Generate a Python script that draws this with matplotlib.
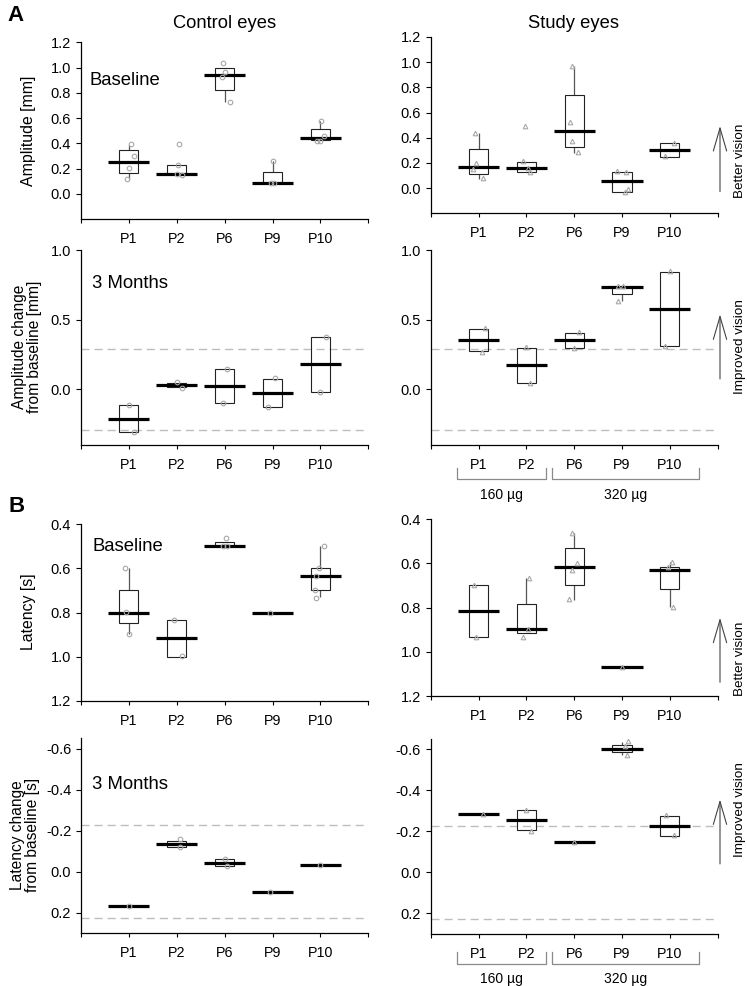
import matplotlib
matplotlib.use("Agg")
import numpy as np
import matplotlib.pyplot as plt
from matplotlib.patches import FancyArrowPatch

plt.rcParams["font.family"] = ["Liberation Sans", "DejaVu Sans"]

W, H = 747, 986

patients = ["P1", "P2", "P6", "P9", "P10"]
doses = ["160 µg", "320 µg"]
dose_spans = [(0.55, 2.41), (2.53, 5.61)]

# A - amplitude at baseline, control eyes [mm]
ampc_q1 = [0.166, 0.160, 0.824, 0.087, 0.424]
ampc_q3 = [0.344, 0.226, 0.995, 0.174, 0.513]
ampc_med = [0.255, 0.160, 0.942, 0.087, 0.442]
ampc_lo = [0.118, None, 0.726, None, None]
ampc_hi = [0.389, None, None, 0.258, 0.574]
ampc_pts = [[0.397, 0.297, 0.205, 0.118], [0.397, 0.229, 0.160, 0.145],
            [1.034, 0.968, 0.924, 0.726], [0.258, 0.087, 0.087],
            [0.574, 0.460, 0.420, 0.416]]
ampc_jit = [[0.05, 0.105, 0.0, -0.035], [0.05, 0.03, 0.0, 0.1],
            [-0.04, 0.0, -0.05, 0.11], [0.02, -0.03, 0.03],
            [0.02, 0.07, -0.08, 0.0]]

# A - amplitude at baseline, study eyes [mm]
amps_q1 = [0.113, 0.129, 0.329, -0.029, 0.250]
amps_q3 = [0.313, 0.210, 0.742, 0.124, 0.355]
amps_med = [0.171, 0.161, 0.450, 0.055, 0.303]
amps_lo = [0.076, None, 0.282, None, None]
amps_hi = [0.434, None, 0.971, None, None]
amps_pts = [[0.434, 0.203, 0.150, 0.082], [0.497, 0.213, 0.163, 0.126],
            [0.971, 0.524, 0.376, 0.289], [0.134, 0.126, -0.008, -0.029],
            [0.360, 0.255]]
amps_jit = [[-0.08, -0.05, -0.12, 0.09], [-0.03, -0.08, 0.04, 0.08],
            [-0.04, -0.09, -0.04, 0.08], [-0.1, 0.09, 0.12, 0.07],
            [0.09, -0.1]]

# A - amplitude change after 3 months, control eyes [mm]
dampc_q1 = [-0.305, 0.017, -0.095, -0.124, -0.017]
dampc_q3 = [-0.114, 0.048, 0.143, 0.076, 0.376]
dampc_med = [-0.210, 0.031, 0.024, -0.024, 0.179]
dampc_lo = [None, None, None, None, None]
dampc_hi = [None, None, None, None, None]
dampc_pts = [[-0.114, -0.305], [0.052, 0.010], [0.143, -0.100],
             [0.081, -0.124], [0.376, -0.017]]
dampc_jit = [[0.0, 0.1], [0.0, 0.1], [0.05, -0.03], [0.06, -0.1], [0.12, 0.0]]

# A - amplitude change after 3 months, study eyes [mm]
damps_q1 = [0.274, 0.043, 0.298, 0.683, 0.310]
damps_q3 = [0.433, 0.298, 0.405, 0.733, 0.840]
damps_med = [0.357, 0.171, 0.352, 0.731, 0.576]
damps_lo = [None, None, None, 0.631, None]
damps_hi = [None, None, None, None, None]
damps_pts = [[0.438, 0.271], [0.302, 0.045], [0.410, 0.298],
             [0.743, 0.738, 0.633], [0.848, 0.312]]
damps_jit = [[0.14, 0.07], [0.0, 0.07], [0.11, -0.01], [-0.09, 0.03, -0.09],
             [0.0, -0.1]]

# B - latency at baseline, control eyes [s]
latc_q1 = [0.699, 0.833, 0.481, 0.800, 0.600]
latc_q3 = [0.848, 1.000, 0.500, 0.800, 0.699]
latc_med = [0.800, 0.916, 0.500, 0.800, 0.632]
latc_lo = [0.599, None, None, None, 0.500]
latc_hi = [0.897, None, None, None, 0.730]
latc_pts = [[0.599, 0.797, 0.898], [0.833, 0.998], [0.462, 0.498, 0.498],
            [0.800], [0.500, 0.600, 0.632, 0.699, 0.733]]
latc_jit = [[-0.08, -0.07, 0.0], [-0.06, 0.1], [0.03, -0.04, 0.05], [-0.05],
            [0.08, -0.04, -0.1, -0.11, -0.1]]

# B - latency at baseline, study eyes [s]
lats_q1 = [0.699, 0.783, 0.531, 1.067, 0.614]
lats_q3 = [0.931, 0.916, 0.699, 1.067, 0.715]
lats_med = [0.815, 0.898, 0.614, 1.067, 0.629]
lats_lo = [None, 0.667, 0.463, None, 0.592]
lats_hi = [None, None, 0.765, None, 0.795]
lats_pts = [[0.696, 0.931], [0.667, 0.898, 0.931], [0.463, 0.596, 0.629, 0.762],
            [1.067], [0.595, 0.617, 0.795]]
lats_jit = [[-0.09, -0.05], [0.06, 0.03, -0.06], [-0.05, 0.06, -0.04, -0.1],
            [0.0], [0.04, -0.03, 0.06]]

# B - latency change after 3 months, control eyes [s]
dlatc_q1 = [0.166, -0.150, -0.059, 0.100, -0.033]
dlatc_q3 = [0.166, -0.118, -0.027, 0.100, -0.033]
dlatc_med = [0.166, -0.134, -0.043, 0.100, -0.033]
dlatc_lo = [None, None, None, None, None]
dlatc_hi = [None, None, None, None, None]
dlatc_pts = [[0.166], [-0.157, -0.118], [-0.063, -0.027], [0.100], [-0.033]]
dlatc_jit = [[0.0], [0.06, 0.06], [0.01, 0.05], [-0.05], [0.0]]

# B - latency change after 3 months, study eyes [s]
dlats_q1 = [-0.285, -0.302, -0.150, -0.621, -0.276]
dlats_q3 = [-0.285, -0.205, -0.150, -0.585, -0.176]
dlats_med = [-0.285, -0.254, -0.150, -0.603, -0.228]
dlats_lo = [None, None, None, -0.637, None]
dlats_hi = [None, None, None, -0.572, None]
dlats_pts = [[-0.285], [-0.304, -0.203], [-0.150], [-0.642, -0.615, -0.574],
             [-0.280, -0.180]]
dlats_jit = [[0.1], [0.0, 0.1], [0.0], [0.12, 0.07, 0.1], [-0.09, 0.08]]

amp_limit = 0.29   # dashed limits, amplitude change
lat_limit = 0.228  # dashed limits, latency change

fig = plt.figure(figsize=(W / 100, H / 100), dpi=100)


def px_axes(l, t, r, b):
    return fig.add_axes([l / W, 1 - b / H, (r - l) / W, (b - t) / H])


def fx(x):
    return x / W


def fy(y):
    return 1 - y / H


def boxes(ax, q1, q3, med, lo, hi, pts, jit, marker):
    xs = np.arange(1, 6)
    for i, x in enumerate(xs):
        if q3[i] != q1[i]:
            ax.bar(x, q3[i] - q1[i], bottom=q1[i], width=0.4, fill=False,
                   edgecolor="#222222", linewidth=0.8, zorder=3)
        if lo[i] is not None:
            ax.vlines(x, lo[i], q1[i], color="#555555", lw=0.9, zorder=2)
        if hi[i] is not None:
            ax.vlines(x, q3[i], hi[i], color="#555555", lw=0.9, zorder=2)
        ax.hlines(med[i], x - 0.43, x + 0.43, color="black", lw=2.3, zorder=4)
        ax.plot(x + np.array(jit[i]), pts[i], ls="none", marker=marker, ms=3.3,
                mfc="none", mec="#a8a8a8", mew=0.8, zorder=5)


def style(ax, ylim, yticks):
    ax.set_xlim(0, 6)
    ax.set_ylim(*ylim)
    ax.set_xticks(range(7))
    ax.set_xticklabels([""] + patients + [""])
    ax.set_yticks(yticks)
    ax.set_yticklabels([f"{t:.1f}" for t in yticks])
    ax.spines["top"].set_visible(False)
    ax.spines["right"].set_visible(False)
    ax.spines["left"].set_linewidth(0.9)
    ax.spines["bottom"].set_linewidth(0.9)
    ax.tick_params(axis="y", direction="out", length=3.6, width=0.8,
                   labelsize=10.5, pad=3.5)
    ax.tick_params(axis="x", direction="out", length=3.2, width=0.8,
                   labelsize=10.3, pad=6)
    ax.patch.set_alpha(0)


def brackets(ax, y_top, y_bot, y_lab):
    tr = ax.get_xaxis_transform()
    for (x0, x1), lab in zip(dose_spans, doses):
        ax.plot([x0, x0, x1, x1], [y_top, y_bot, y_bot, y_top], color="#8a8a8a",
                lw=0.9, transform=tr, clip_on=False)
        ax.text((x0 + x1) / 2, y_lab, lab, transform=tr, ha="center",
                va="center", fontsize=10)


def vision_arrow(x, y_tail, y_tip, label, y_lab):
    arr = FancyArrowPatch((fx(x), fy(y_tail)), (fx(x), fy(y_tip)),
                          transform=fig.transFigure,
                          arrowstyle="->,head_length=16.5,head_width=4.8",
                          mutation_scale=1, color="#444444", lw=0.8)
    fig.add_artist(arr)
    fig.text(fx(740), fy(y_lab), label, rotation=90, ha="center", va="center",
             fontsize=9.7)


dash = (0, (5.8, 3.6))

ax1 = px_axes(81, 42.3, 368.3, 219)
boxes(ax1, ampc_q1, ampc_q3, ampc_med, ampc_lo, ampc_hi, ampc_pts, ampc_jit, "o")
style(ax1, (-0.2, 1.2), [0.0, 0.2, 0.4, 0.6, 0.8, 1.0, 1.2])
ax1.text(0.17, 0.9, "Baseline", fontsize=13.3, ha="left", va="center")

ax2 = px_axes(430.7, 37, 717.7, 213.3)
boxes(ax2, amps_q1, amps_q3, amps_med, amps_lo, amps_hi, amps_pts, amps_jit, "^")
style(ax2, (-0.2, 1.2), [0.0, 0.2, 0.4, 0.6, 0.8, 1.0, 1.2])

ax3 = px_axes(81, 250, 368.3, 445)
boxes(ax3, dampc_q1, dampc_q3, dampc_med, dampc_lo, dampc_hi, dampc_pts, dampc_jit, "o")
style(ax3, (-0.4, 1.0), [0.0, 0.5, 1.0])
for v in (amp_limit, -amp_limit):
    ax3.axhline(v, color="#bdbdbd", lw=1.0, ls=dash, zorder=1)
ax3.text(0.23, 0.76, "3 Months", fontsize=13.3, ha="left", va="center")

ax4 = px_axes(430.7, 250, 717.7, 445)
boxes(ax4, damps_q1, damps_q3, damps_med, damps_lo, damps_hi, damps_pts, damps_jit, "^")
style(ax4, (-0.4, 1.0), [0.0, 0.5, 1.0])
for v in (amp_limit, -amp_limit):
    ax4.axhline(v, color="#bdbdbd", lw=1.0, ls=dash, zorder=1)
brackets(ax4, -23 / 195, -34 / 195, -50 / 195)

ax5 = px_axes(81, 524.3, 368.3, 701)
boxes(ax5, latc_q1, latc_q3, latc_med, latc_lo, latc_hi, latc_pts, latc_jit, "o")
style(ax5, (1.2, 0.4), [0.4, 0.6, 0.8, 1.0, 1.2])
ax5.text(0.23, 0.501, "Baseline", fontsize=13.3, ha="left", va="center")

ax6 = px_axes(430.7, 519.3, 717.7, 696)
boxes(ax6, lats_q1, lats_q3, lats_med, lats_lo, lats_hi, lats_pts, lats_jit, "^")
style(ax6, (1.2, 0.4), [0.4, 0.6, 0.8, 1.0, 1.2])

ax7 = px_axes(81, 738.3, 368.3, 933)
boxes(ax7, dlatc_q1, dlatc_q3, dlatc_med, dlatc_lo, dlatc_hi, dlatc_pts, dlatc_jit, "o")
style(ax7, (0.3, -0.65), [-0.6, -0.4, -0.2, 0.0, 0.2])
for v in (lat_limit, -lat_limit):
    ax7.axhline(v, color="#bdbdbd", lw=1.0, ls=dash, zorder=1)
ax7.text(0.23, -0.426, "3 Months", fontsize=13.3, ha="left", va="center")

ax8 = px_axes(430.7, 739, 717.7, 934)
boxes(ax8, dlats_q1, dlats_q3, dlats_med, dlats_lo, dlats_hi, dlats_pts, dlats_jit, "^")
style(ax8, (0.3, -0.65), [-0.6, -0.4, -0.2, 0.0, 0.2])
for v in (lat_limit, -lat_limit):
    ax8.axhline(v, color="#bdbdbd", lw=1.0, ls=dash, zorder=1)
brackets(ax8, -17.7 / 195, -30 / 195, -45 / 195)

# column titles, panel letters, axis labels
fig.text(fx(224.5), fy(23), "Control eyes", ha="center", va="center", fontsize=13.2)
fig.text(fx(574), fy(23), "Study eyes", ha="center", va="center", fontsize=13.2)
fig.text(fx(7), fy(15.6), "A", ha="left", va="center", fontsize=16, fontweight="bold")
fig.text(fx(8), fy(507), "B", ha="left", va="center", fontsize=16, fontweight="bold")

fig.text(fx(28), fy(131), "Amplitude [mm]", rotation=90, ha="center",
         va="center", fontsize=11.4)
fig.text(fx(27.5), fy(347), "Amplitude change\nfrom baseline [mm]", rotation=90,
         ha="center", va="center", fontsize=11.2, linespacing=1.0,
         multialignment="center")
fig.text(fx(28), fy(612), "Latency [s]", rotation=90, ha="center", va="center",
         fontsize=11.4)
fig.text(fx(25), fy(835), "Latency change\nfrom baseline [s]", rotation=90,
         ha="center", va="center", fontsize=11.2, linespacing=1.0,
         multialignment="center")

vision_arrow(720, 194.3, 123.3, "Better vision", 161)
vision_arrow(720, 381.7, 311.7, "Improved vision", 347)
vision_arrow(720, 685, 615, "Better vision", 659)
vision_arrow(720, 866.7, 796.7, "Improved vision", 810)

fig.savefig("out.png", dpi=100)
